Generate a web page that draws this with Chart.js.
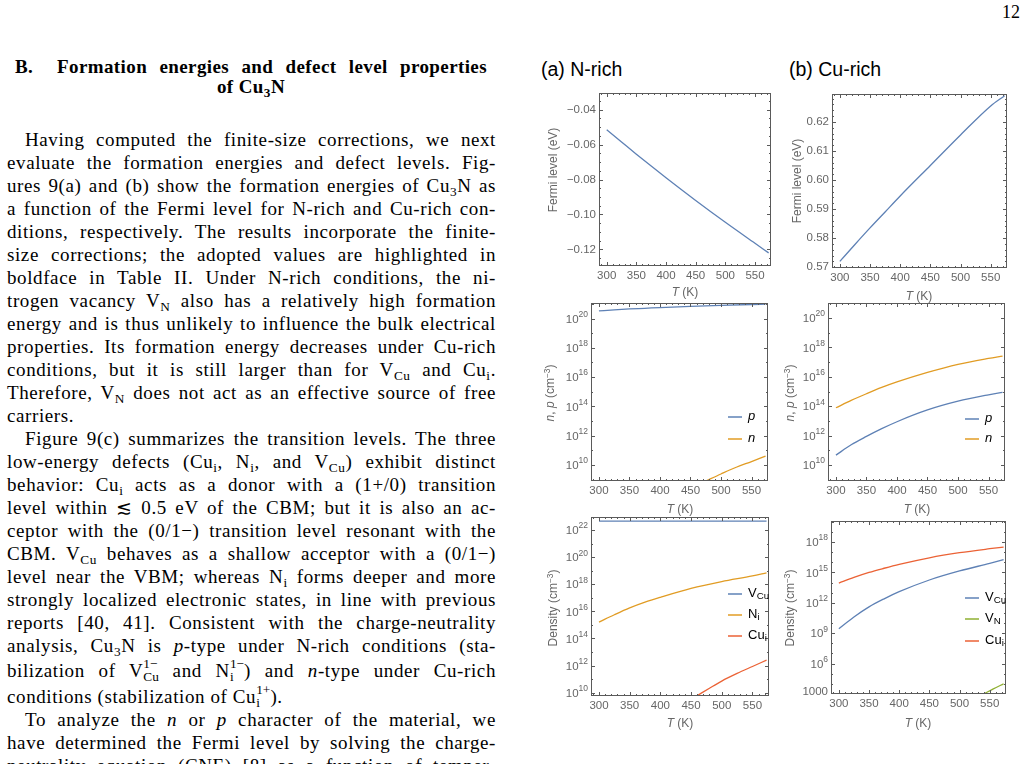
<!DOCTYPE html>
<html>
<head>
<meta charset="utf-8">
<title>Cu3N defect properties</title>
<script src="https://cdn.jsdelivr.net/npm/chart.js"></script>
<style>
  body { margin:0; width:1028px; height:764px; overflow:hidden; background:#fff; position:relative; font-family:"Liberation Serif", "Times New Roman", serif; color:#000; }
  .head { position:absolute; left:15px; top:57px; width:472px; font-weight:bold; font-size:19px; line-height:20px; letter-spacing:0.4px; }
  .txt { position:absolute; left:7px; top:128px; width:489px; font-size:19px; line-height:23px; letter-spacing:0.6px; }
  .txt div { text-align:justify; text-align-last:justify; height:23px; }
  .txt div.last { text-align-last:left; }
  .txt div.ind { text-indent:18px; }
  sub { font-size:0.7em; vertical-align:-0.3em; line-height:0; }
  .ss { display:inline-block; font-size:0.7em; line-height:1em; vertical-align:-0.35em; text-align:left; text-indent:0; letter-spacing:0; }
  .pg { position:absolute; left:1002px; top:2px; font-size:18px; }
  .ptitle { position:absolute; top:58px; font-family:"Liberation Sans", Arial, sans-serif; font-size:19.5px; }
  .pc { position:absolute; }
  .ax { position:absolute; font-family:"Liberation Sans", Arial, sans-serif; font-size:12px; color:#666; white-space:nowrap; transform:translate(-50%,-50%); }
  .ax.y { transform:translate(-50%,-50%) rotate(-90deg); }
  .ax sup { font-size:0.7em; vertical-align:0.5em; line-height:0; }
  .lg { position:absolute; font-family:"Liberation Sans", Arial, sans-serif; font-size:13px; line-height:14px; transform:translateY(-50%); white-space:nowrap; }
  .lg .sw { display:inline-block; width:14px; height:2px; margin-right:6px; opacity:0.75; vertical-align:middle; }
  .lg sub { font-size:0.75em; vertical-align:-0.25em; }
</style>
</head>
<body>
<div class="pg">12</div>

<div class="head">
  <div style="display:flex"><span style="width:42px">B.</span><span style="flex:1;text-align:justify;text-align-last:justify">Formation energies and defect level properties</span></div>
  <div style="text-align:center">of Cu<sub>3</sub>N</div>
</div>

<div class="txt">
  <div class="ind">Having computed the finite-size corrections, we next</div>
  <div>evaluate the formation energies and defect levels. Fig-</div>
  <div>ures 9(a) and (b) show the formation energies of Cu<sub>3</sub>N as</div>
  <div>a function of the Fermi level for N-rich and Cu-rich con-</div>
  <div>ditions, respectively. The results incorporate the finite-</div>
  <div>size corrections; the adopted values are highlighted in</div>
  <div>boldface in Table II. Under N-rich conditions, the ni-</div>
  <div>trogen vacancy V<sub>N</sub> also has a relatively high formation</div>
  <div>energy and is thus unlikely to influence the bulk electrical</div>
  <div>properties. Its formation energy decreases under Cu-rich</div>
  <div>conditions, but it is still larger than for V<sub>Cu</sub> and Cu<sub>i</sub>.</div>
  <div>Therefore, V<sub>N</sub> does not act as an effective source of free</div>
  <div class="last">carriers.</div>
  <div class="ind">Figure 9(c) summarizes the transition levels. The three</div>
  <div>low-energy defects (Cu<sub>i</sub>, N<sub>i</sub>, and V<sub>Cu</sub>) exhibit distinct</div>
  <div>behavior: Cu<sub>i</sub> acts as a donor with a (1+/0) transition</div>
  <div>level within ≲ 0.5 eV of the CBM; but it is also an ac-</div>
  <div>ceptor with the (0/1−) transition level resonant with the</div>
  <div>CBM. V<sub>Cu</sub> behaves as a shallow acceptor with a (0/1−)</div>
  <div>level near the VBM; whereas N<sub>i</sub> forms deeper and more</div>
  <div>strongly localized electronic states, in line with previous</div>
  <div>reports [40, 41]. Consistent with the charge-neutrality</div>
  <div>analysis, Cu<sub>3</sub>N is <i>p</i>-type under N-rich conditions (sta-</div>
  <div>bilization of V<span class="ss">1−<br>Cu</span> and N<span class="ss">1−<br>i</span>) and <i>n</i>-type under Cu-rich</div>
  <div class="last" style="margin-top:3px">conditions (stabilization of Cu<span class="ss">1+<br>i</span>).</div>
  <div class="ind" style="margin-top:2px">To analyze the <i>n</i> or <i>p</i> character of the material, we</div>
  <div>have determined the Fermi level by solving the charge-</div>
  <div>neutrality equation (CNE) [8] as a function of temper-</div>
</div>

<div class="ptitle" style="left:541px">(a) N-rich</div>
<div class="ptitle" style="left:789px">(b) Cu-rich</div>

<div class="pc" style="left:559px;top:79px;width:216px;height:211px"><canvas id="fermiA"></canvas></div>
<div class="pc" style="left:792px;top:80px;width:219px;height:212px"><canvas id="fermiB"></canvas></div>
<div class="pc" style="left:551px;top:289px;width:221px;height:216px"><canvas id="carrA"></canvas></div>
<div class="pc" style="left:788px;top:289px;width:221px;height:216px"><canvas id="carrB"></canvas></div>
<div class="pc" style="left:551px;top:503px;width:222px;height:217px"><canvas id="defA"></canvas></div>
<div class="pc" style="left:791px;top:507px;width:219px;height:211px"><canvas id="defB"></canvas></div>

<div class="ax y" style="left:553px;top:170px">Fermi level (eV)</div>
<div class="ax y" style="left:797px;top:181px">Fermi level (eV)</div>
<div class="ax y" style="left:550px;top:393px"><i>n</i>, <i>p</i> (cm<sup>−3</sup>)</div>
<div class="ax y" style="left:790px;top:393px"><i>n</i>, <i>p</i> (cm<sup>−3</sup>)</div>
<div class="ax y" style="left:553px;top:608px">Density (cm<sup>−3</sup>)</div>
<div class="ax y" style="left:790px;top:608px">Density (cm<sup>−3</sup>)</div>

<div class="ax" style="left:685px;top:292px"><i>T</i> (K)</div>
<div class="ax" style="left:919px;top:296px"><i>T</i> (K)</div>
<div class="ax" style="left:680px;top:509px"><i>T</i> (K)</div>
<div class="ax" style="left:917px;top:509px"><i>T</i> (K)</div>
<div class="ax" style="left:680px;top:723px"><i>T</i> (K)</div>
<div class="ax" style="left:918px;top:723px"><i>T</i> (K)</div>

<div class="lg" style="left:728px;top:416px"><span class="sw" style="background:#5E81B5"></span><i>p</i></div>
<div class="lg" style="left:728px;top:438px"><span class="sw" style="background:#E19C24"></span><i>n</i></div>
<div class="lg" style="left:965px;top:418px"><span class="sw" style="background:#5E81B5"></span><i>p</i></div>
<div class="lg" style="left:965px;top:438px"><span class="sw" style="background:#E19C24"></span><i>n</i></div>

<div class="lg" style="left:728px;top:593px"><span class="sw" style="background:#5E81B5"></span>V<sub>Cu</sub></div>
<div class="lg" style="left:728px;top:614px"><span class="sw" style="background:#E19C24"></span>N<sub>i</sub></div>
<div class="lg" style="left:728px;top:635px"><span class="sw" style="background:#EB6235"></span>Cu<sub>i</sub></div>
<div class="lg" style="left:965px;top:597px"><span class="sw" style="background:#5E81B5"></span>V<sub>Cu</sub></div>
<div class="lg" style="left:965px;top:618px"><span class="sw" style="background:#8FB032"></span>V<sub>N</sub></div>
<div class="lg" style="left:965px;top:640px"><span class="sw" style="background:#EB6235"></span>Cu<sub>i</sub></div>

<script>
// temperature grid (K) shared by most curves
const tempK = [300, 325, 350, 375, 400, 450, 500, 550, 573];

// (a)/(b) top: Fermi level (eV)
const fermiNrich  = [-0.0515, -0.0585, -0.0655, -0.0723, -0.079, -0.092, -0.1045, -0.1165, -0.122];
const fermiCurich = [0.572, 0.5778, 0.5835, 0.589, 0.5945, 0.605, 0.6155, 0.6255, 0.629];

// (a) middle: carriers N-rich (cm^-3)
const pNrich  = [3.3e20, 3.9e20, 4.5e20, 5.0e20, 5.6e20, 6.8e20, 8.0e20, 9.1e20, 9.5e20];
const nNrichT = [475, 500, 525, 550, 573];
const nNrich  = [7.9e8, 2.4e9, 6.9e9, 1.7e10, 4.0e10];

// (b) middle: carriers Cu-rich (cm^-3)
const pCurich = [4.8e10, 2.4e11, 8.9e11, 3.0e12, 8.9e12, 5.6e13, 2.2e14, 6.0e14, 8.9e14];
const nCurich = [7.9e13, 2.5e14, 7.1e14, 1.9e15, 4.5e15, 2.0e16, 7.1e16, 1.8e17, 2.6e17];

// (a) bottom: defect densities N-rich (cm^-3)
const vCuNrich = [4.7e22, 4.7e22, 4.7e22, 4.7e22, 4.7e22, 4.7e22, 4.7e22, 4.7e22, 4.7e22];
const niNrich  = [1.6e15, 5.6e15, 1.8e16, 4.8e16, 1.1e17, 5.0e17, 1.6e18, 4.2e18, 7.1e18];
const cuiNrichT = [459, 480, 500, 525, 550, 573];
const cuiNrich  = [5.6e9, 2.1e10, 7.1e10, 2.6e11, 8.5e11, 2.5e12];

// (b) bottom: defect densities Cu-rich (cm^-3)
const vCuCurich = [2.8e9, 4.0e10, 4.0e11, 2.5e12, 1.26e13, 1.8e14, 1.4e15, 7.9e15, 1.8e16];
const cuiCurich = [8.9e13, 3.2e14, 1.0e15, 2.6e15, 6.3e15, 2.8e16, 8.9e16, 2.2e17, 3.2e17];
const vNCurichT = [540, 556, 573];
const vNCurich  = [1000, 3.2e3, 1.0e4];

// tick labels
const xTicks = [300, 350, 400, 450, 500, 550];
const fermiNrichTicks = [-0.12, -0.10, -0.08, -0.06, -0.04];
const fermiCurichTicks = [0.57, 0.58, 0.59, 0.60, 0.61, 0.62];
const carrierTicks = [1e10, 1e12, 1e14, 1e16, 1e18, 1e20];
const densNrichTicks = [1e10, 1e12, 1e14, 1e16, 1e18, 1e20, 1e22];
const densCurichTicks = [1e3, 1e6, 1e9, 1e12, 1e15, 1e18];

const BLUE = '#5E81B5', ORANGE = '#E19C24', GREEN = '#8FB032', RED = '#EB6235';
const SANS = '"Liberation Sans", Arial, sans-serif';

Chart.defaults.font.family = SANS;
Chart.defaults.font.size = 11.5;
Chart.defaults.color = '#666';

function decLabel(v) {
  return v.toFixed(2).replace('-', '−');
}

function range(a, b, step) {
  const out = [];
  for (let v = a; v <= b + step / 10; v += step) out.push(Math.round(v * 1e6) / 1e6);
  return out;
}

// frame on all four sides with inward ticks, plus 10^n labels for log axes
const framePlugin = {
  id: 'frame',
  afterDatasetsDraw(chart, args, opts) {
    const { ctx, chartArea: a, scales } = chart;
    const x = scales.x, y = scales.y;
    ctx.save();
    ctx.strokeStyle = '#5a5a5a';
    ctx.lineWidth = 1;
    ctx.beginPath();
    const xt = (v, len) => {
      const px = Math.round(x.getPixelForValue(v)) + 0.5;
      if (px < a.left || px > a.right) return;
      ctx.moveTo(px, a.bottom); ctx.lineTo(px, a.bottom - len);
      ctx.moveTo(px, a.top); ctx.lineTo(px, a.top + len);
    };
    const yt = (v, len) => {
      const py = Math.round(y.getPixelForValue(v)) + 0.5;
      if (py < a.top || py > a.bottom) return;
      ctx.moveTo(a.left, py); ctx.lineTo(a.left + len, py);
      ctx.moveTo(a.right, py); ctx.lineTo(a.right - len, py);
    };
    xTicks.forEach(v => xt(v, 4));
    opts.xMinor.forEach(v => xt(v, 2));
    opts.yMajor.forEach(v => yt(v, 4));
    opts.yMinor.forEach(v => yt(v, 2));
    ctx.stroke();
    ctx.strokeRect(a.left + 0.5, a.top + 0.5, a.right - a.left - 1, a.bottom - a.top - 1);

    if (opts.log) {
      ctx.fillStyle = '#666';
      ctx.textAlign = 'right';
      ctx.textBaseline = 'middle';
      y.ticks.forEach(t => {
        const py = y.getPixelForValue(t.value);
        const e = Math.round(Math.log10(t.value));
        const xr = a.left - 3;
        if (e === 3) {
          ctx.font = '11.5px ' + SANS;
          ctx.fillText('1000', xr, py - 2);
          return;
        }
        ctx.font = '8.5px ' + SANS;
        const es = String(e);
        const ew = ctx.measureText(es).width;
        ctx.fillText(es, xr, py - 4);
        ctx.font = '11.5px ' + SANS;
        ctx.fillText('10', xr - ew, py + 1);
      });
    }
    ctx.restore();
  }
};

const xMinor = range(290, 570, 10).filter(v => !xTicks.includes(v));

function series(xs, ys, color) {
  return {
    data: xs.map((t, i) => ({ x: t, y: ys[i] })),
    borderColor: color,
    borderWidth: 1.3,
    pointRadius: 0,
    fill: false,
    cubicInterpolationMode: 'monotone'
  };
}

function panel(id, cfg) {
  return new Chart(document.getElementById(id), {
    type: 'line',
    data: { datasets: cfg.datasets },
    options: {
      responsive: true,
      maintainAspectRatio: false,
      animation: false,
      layout: { padding: { top: 14, right: 4, left: 0, bottom: 0 } },
      plugins: {
        legend: { display: false },
        tooltip: { enabled: false },
        frame: { xMinor: xMinor, yMajor: cfg.yTicks, yMinor: cfg.yMinor, log: !!cfg.log }
      },
      scales: {
        x: {
          type: 'linear', min: 287, max: 577,
          grid: { display: false, drawTicks: false },
          border: { display: false },
          ticks: { padding: 3, maxRotation: 0, autoSkip: false },
          afterBuildTicks: s => { s.ticks = xTicks.map(v => ({ value: v })); },
          afterFit: s => { s.height = 24; }
        },
        y: {
          type: cfg.log ? 'logarithmic' : 'linear',
          min: cfg.min, max: cfg.max,
          grid: { display: false, drawTicks: false },
          border: { display: false },
          ticks: { padding: 3, autoSkip: false, callback: v => cfg.log ? '' : decLabel(v) },
          afterBuildTicks: s => { s.ticks = cfg.yTicks.map(v => ({ value: v })); },
          afterFit: s => { s.width = 40; }
        }
      }
    },
    plugins: [framePlugin]
  });
}

const decades = (a, b) => range(a, b, 1).map(e => Math.pow(10, e));

panel('fermiA', {
  min: -0.1295, max: -0.0305,
  yTicks: fermiNrichTicks,
  yMinor: range(-0.125, -0.035, 0.005),
  datasets: [series(tempK, fermiNrich, BLUE)]
});

panel('fermiB', {
  min: 0.5697, max: 0.6296,
  yTicks: fermiCurichTicks,
  yMinor: range(0.57, 0.628, 0.002),
  datasets: [series(tempK, fermiCurich, BLUE)]
});

panel('carrA', {
  log: true, min: Math.pow(10, 8.9), max: Math.pow(10, 21.06),
  yTicks: carrierTicks,
  yMinor: decades(9, 21),
  datasets: [series(tempK, pNrich, BLUE), series(nNrichT, nNrich, ORANGE)]
});

panel('carrB', {
  log: true, min: Math.pow(10, 8.92), max: Math.pow(10, 21.02),
  yTicks: carrierTicks,
  yMinor: decades(9, 21),
  datasets: [series(tempK, pCurich, BLUE), series(tempK, nCurich, ORANGE)]
});

panel('defA', {
  log: true, min: Math.pow(10, 9.75), max: Math.pow(10, 22.97),
  yTicks: densNrichTicks,
  yMinor: decades(10, 22),
  datasets: [series(tempK, vCuNrich, BLUE), series(tempK, niNrich, ORANGE), series(cuiNrichT, cuiNrich, RED)]
});

panel('defB', {
  log: true, min: 1000, max: Math.pow(10, 20.08),
  yTicks: densCurichTicks,
  yMinor: decades(3, 20),
  datasets: [series(tempK, vCuCurich, BLUE), series(vNCurichT, vNCurich, GREEN), series(tempK, cuiCurich, RED)]
});
</script>
</body>
</html>
